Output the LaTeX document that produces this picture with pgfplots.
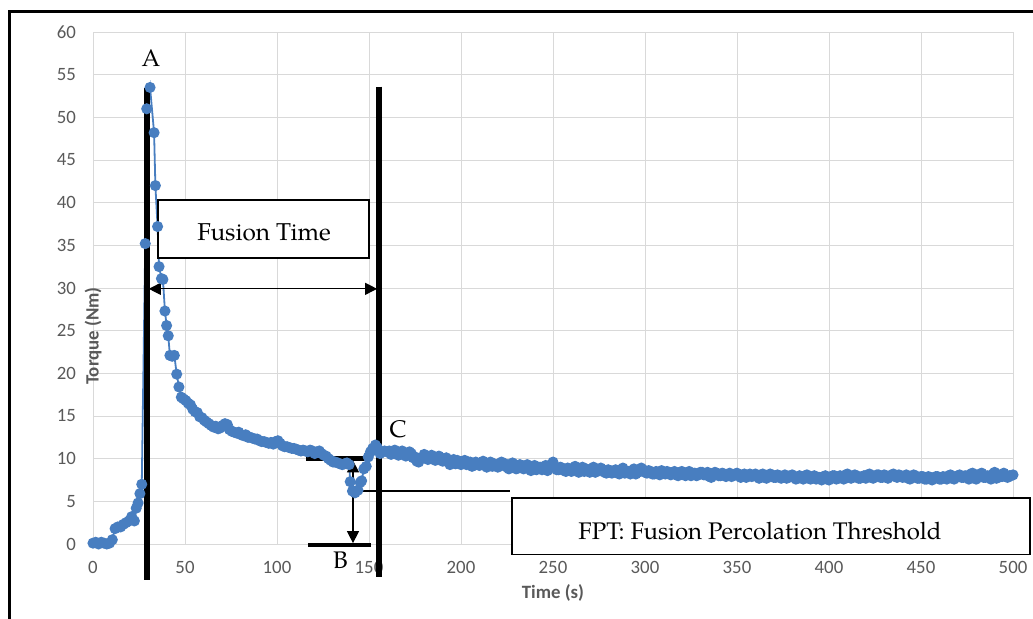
\documentclass[border=0pt]{standalone}
\usepackage{fontspec}
\usepackage{pgfplots}
\pgfplotsset{compat=1.18}
\usetikzlibrary{arrows.meta}
\newfontfamily\calibri{Carlito}
\newfontfamily\pal{TeX Gyre Pagella}
\definecolor{ser}{RGB}{72,126,192}
\definecolor{tickgray}{RGB}{89,89,89}
\definecolor{gridgray}{RGB}{217,217,217}
\begin{document}
\begin{tikzpicture}
\useasboundingbox (0,0) rectangle (516.5pt,309.5pt);
\draw[line width=1.5pt] (4.5pt,0) -- (4.5pt,303.5pt) -- (516.5pt,303.5pt);
\begin{axis}[
  at={(46.5pt,37.5pt)}, anchor=south west,
  scale only axis, width=460pt, height=256pt,
  xmin=0, xmax=500, ymin=0, ymax=60,
  xtick={0,50,...,500}, ytick={0,5,...,60},
  grid=major, major grid style={draw=gridgray, line width=0.45pt},
  axis line style={draw=none}, major tick length=0pt,
  tick label style={font=\calibri\fontsize{9.4}{11}\selectfont, text=tickgray},
  /pgf/number format/assume math mode=true,
  xticklabel style={yshift=-5pt},
  yticklabel style={xshift=-5pt},
  xlabel={\calibri\bfseries Time (s)},
  ylabel={\calibri\bfseries Torque (Nm)},
  label style={font=\fontsize{9.4}{11}\selectfont, text=tickgray},
  xlabel style={at={(rel axis cs:0.5,0)}, anchor=center, yshift=-24.5pt},
  ylabel style={at={(rel axis cs:0,0.5)}, anchor=center, xshift=-24pt},
  clip=false,
]
\addplot[color=ser, line width=0.9pt, mark=*, mark size=2.3pt, mark options={fill=ser, draw=ser}] table {
x y
0 0.1
1.5 0.2
3 0.0
4.5 0.2
6 0.1
7.5 0.0
9 0.1
10.5 0.5
12 1.8
13.5 2.0
15 2.0
16.5 2.3
18 2.5
19.5 2.7
21 3.2
22.5 2.7
23.5 4.2
24.5 4.8
25.5 5.9
26.5 7.0
28.4 35.2
29.2 51.0
31 53.5
33.2 48.2
33.9 42.0
35.1 37.2
35.9 32.5
37.2 31.1
38 31.0
39.1 27.3
40 25.6
40.9 24.4
41.8 22.1
43 22.0
44.2 22.1
45.5 19.9
46.7 18.4
48 17.2
49.2 17.0
50.5 16.8
51.7 16.5
53 16.3
54.2 15.8
55.5 15.5
56.7 15.4
58 14.9
59.2 14.8
60.5 14.5
61.7 14.3
63 14.1
64.2 13.9
65.5 13.7
66.7 13.8
68 13.5
69.2 13.6
70.5 13.9
71.7 14.1
73 14.0
74.2 13.4
75.5 13.2
76.7 13.1
78 13.0
79.2 13.1
80.5 12.8
81.7 12.7
83 12.8
84.2 12.5
85.5 12.5
86.7 12.4
88 12.3
89.2 12.3
90.5 12.1
91.7 12.0
93 12.0
94.2 11.9
95.5 11.8
96.7 11.9
98 11.7
99.2 12.0
100.5 12.1
101.7 11.8
103 11.5
104.2 11.4
105.5 11.4
106.7 11.3
108 11.2
109.2 11.2
110.5 11.1
111.7 11.0
113 10.9
114.2 11.0
115.5 10.9
116.7 10.8
118 11.0
119.2 10.9
120.5 10.6
121.7 10.8
123 10.9
124.2 10.6
125.5 10.4
126.7 10.3
128 10.0
129.2 9.8
130.5 9.6
131.7 9.6
133 9.5
134.2 9.4
135.5 9.3
136.7 9.4
138 9.5
139.2 9.3
139.8 7.3
141 6.2
142.4 6.0
144 6.3
145.2 7.2
146 7.4
147.2 8.8
148.5 9.1
149.6 10.2
150.8 10.8
152 11.2
153.5 11.6
154.5 11.3
156 10.6
157.2 10.8
158.5 10.9
159.7 10.8
161 10.9
162 10.5
163 10.6
164 11.0
165 10.8
166 10.4
167 10.5
168 10.9
169 10.7
170 10.3
171 10.4
172 10.8
173 10.6
174 10.1
175 10.2
176 9.7
177 9.6
178 10.0
179 10.1
180 10.5
181 10.3
182 9.9
183 10.0
184 10.4
185 10.2
186 9.8
187 9.9
188 10.3
189 10.1
190 9.7
191 9.8
192 10.1
193 9.6
194 9.3
195 9.7
196 9.9
197 9.4
198 9.8
199 9.6
200 9.3
201 9.5
202 9.8
203 9.3
204 9.6
205 9.6
206 9.1
207 9.2
208 9.6
209 9.4
210 9.2
211 9.5
212 9.7
213 9.2
214 9.0
215 9.4
216 9.6
217 9.1
218 9.4
219 9.3
220 9.0
221 9.4
222 9.6
223 9.2
224 9.4
225 9.0
226 8.8
227 9.3
228 9.5
229 9.1
230 8.8
231 8.9
232 9.3
233 9.2
234 8.8
235 9.0
236 9.3
237 8.8
238 8.6
239 9.1
240 9.2
241 8.7
242 8.9
243 9.0
244 8.7
245 8.9
246 9.2
247 8.6
248 8.9
249 9.3
250 9.6
251 9.0
252 8.7
253 8.7
254 9.0
255 8.9
256 8.6
257 8.5
258 8.9
259 8.8
260 8.5
261 8.9
262 9.1
263 8.6
264 8.4
265 8.8
266 9.0
267 8.5
268 8.8
269 8.7
270 8.4
271 8.8
272 9.0
273 8.4
274 8.6
275 8.6
276 8.9
277 8.7
278 8.4
279 8.3
280 8.7
281 8.6
282 8.3
283 8.4
284 8.7
285 8.5
286 8.2
287 8.7
288 8.9
289 8.3
290 8.4
291 8.5
292 8.2
293 8.6
294 8.8
295 8.2
296 8.4
297 8.5
298 8.9
299 8.7
300 8.4
301 8.3
302 8.6
303 8.5
304 8.2
305 8.2
306 8.5
307 8.4
308 8.1
309 8.6
310 8.4
311 8.2
312 8.5
313 8.4
314 8.1
315 8.3
316 8.5
317 8.1
318 8.0
319 8.4
320 8.5
321 8.2
322 8.0
323 8.3
324 8.5
325 8.0
326 8.2
327 8.3
328 8.0
329 8.1
330 8.4
331 8.4
332 8.1
333 8.2
334 8.4
335 7.9
336 7.8
337 8.2
338 8.4
339 8.3
340 8.0
341 8.0
342 8.3
343 8.2
344 7.9
345 8.1
346 8.3
347 7.9
348 8.0
349 8.2
350 8.3
351 8.0
352 7.8
353 8.1
354 8.2
355 7.8
356 8.0
357 8.2
358 7.9
359 8.0
360 8.2
361 7.9
362 7.7
363 8.1
364 8.2
365 7.8
366 7.7
367 8.0
368 8.2
369 8.1
370 7.8
371 7.8
372 8.1
373 8.0
374 7.7
375 7.9
376 8.1
377 7.7
378 7.8
379 8.0
380 8.1
381 7.9
382 7.6
383 7.7
384 8.0
385 7.9
386 7.6
387 8.0
388 8.1
389 7.7
390 7.6
391 7.9
392 8.0
393 7.6
394 7.8
395 7.8
396 7.5
397 7.9
398 8.0
399 7.6
400 7.5
401 7.8
402 8.0
403 8.0
404 7.6
405 7.7
406 8.0
407 7.9
408 7.6
409 8.1
410 8.2
411 7.8
412 7.7
413 7.9
414 8.1
415 8.0
416 7.7
417 7.7
418 7.9
419 8.0
420 7.7
421 8.1
422 8.2
423 7.8
424 7.7
425 7.9
426 8.1
427 8.1
428 7.8
429 7.8
430 8.1
431 8.0
432 7.7
433 7.9
434 8.1
435 8.2
436 7.9
437 7.8
438 8.1
439 8.0
440 7.8
441 7.9
442 8.1
443 7.7
444 7.6
445 7.9
446 8.1
447 8.0
448 7.7
449 7.7
450 7.9
451 7.9
452 7.6
453 7.6
454 7.9
455 7.8
456 7.5
457 7.7
458 7.9
459 7.9
460 7.6
461 7.6
462 7.9
463 7.8
464 7.6
465 8.0
466 8.1
467 7.7
468 7.6
469 7.9
470 8.0
471 8.1
472 7.8
473 7.8
474 8.0
475 7.9
476 7.6
477 8.2
478 8.3
479 7.7
480 7.6
481 8.0
482 8.2
483 8.3
484 7.8
485 7.8
486 8.0
487 7.9
488 7.6
489 8.2
490 8.4
491 7.7
492 7.8
493 8.1
494 7.9
495 8.3
496 7.9
497 7.8
498 8.0
499 8.0
500 8.1
};
% annotations
\draw[line width=2.6pt] (axis cs:29.3,53.4) -- (axis cs:29.3,-4.2);
\draw[line width=2.6pt] (axis cs:155.4,53.6) -- (axis cs:155.4,-3.9);
\node[font=\pal\fontsize{12}{14}\selectfont] at (axis cs:31.5,56.9) {A};
\draw[line width=0.7pt, fill=white] (axis cs:35.3,40.3) rectangle (axis cs:150.0,33.5);
\node[font=\pal\fontsize{12.2}{14}\selectfont] at (axis cs:93,36.5) {Fusion Time};
\draw[line width=0.6pt, {Triangle[length=6pt,width=6pt]}-{Triangle[length=6pt,width=6pt]}] (axis cs:30.3,29.9) -- (axis cs:154.4,29.9);
\draw[line width=2.3pt] (axis cs:115.8,10.0) -- (axis cs:150.5,10.0);
\draw[line width=2.3pt] (axis cs:116.8,-0.1) -- (axis cs:151.1,-0.1);
\draw[line width=0.6pt, {Triangle[length=6pt,width=6pt]}-{Triangle[length=6pt,width=6pt]}] (axis cs:141.3,9.8) -- (axis cs:141.3,0.1);
\draw[line width=0.7pt] (axis cs:139.7,6.2) -- (axis cs:226.6,6.2);
\draw[line width=0.7pt, fill=white] (axis cs:227.7,5.4) rectangle (axis cs:509.2,-1.2);
\node[font=\pal\fontsize{12}{14}\selectfont] at (axis cs:362.5,1.5) {FPT: Fusion Percolation Threshold};
\node[font=\pal\fontsize{12}{14}\selectfont] at (axis cs:134.5,-1.9) {B};
\node[font=\pal\fontsize{12}{14}\selectfont] at (axis cs:165.8,13.4) {C};
\end{axis}
\end{tikzpicture}
\end{document}
